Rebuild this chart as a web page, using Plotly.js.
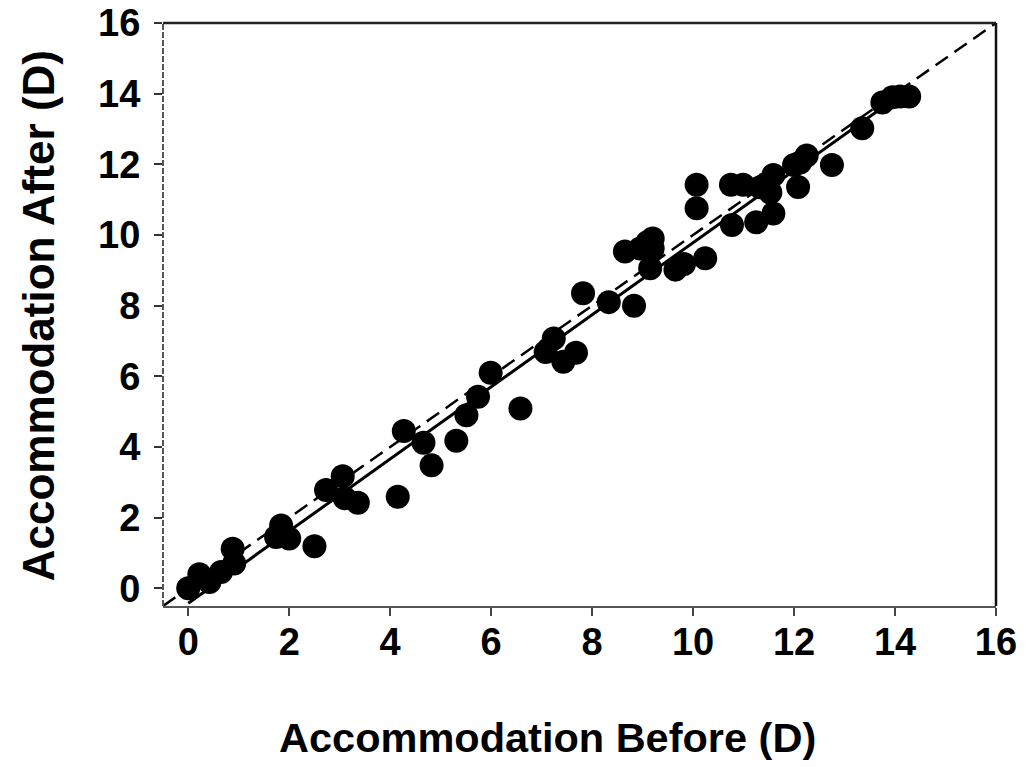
<!DOCTYPE html>
<html>
<head>
<meta charset="utf-8">
<script src="https://cdn.plot.ly/plotly-3.0.1.min.js"></script>
<style>html,body{margin:0;padding:0;background:#fff;}#chart{width:1025px;height:767px;}</style>
</head>
<body>
<div id="chart"></div>
<script>
// Accommodation before vs after (D)
const before = [0.00, 0.22, 0.42, 0.65, 0.88, 0.91, 1.74, 1.84, 2.00, 2.50,
  2.73, 3.06, 3.10, 3.36, 4.15, 4.27, 4.66, 4.82, 5.31, 5.51,
  5.74, 5.99, 6.58, 7.08, 7.24, 7.43, 7.68, 7.82, 8.33, 8.83,
  8.65, 8.95, 9.10, 9.20, 9.20, 9.15, 9.65, 9.82, 10.24, 10.07,
  10.07, 10.75, 10.99, 10.77, 11.25, 11.59, 11.33, 11.45, 11.59, 11.53,
  12.08, 12.00, 12.25, 12.12, 12.75, 13.35, 13.75, 13.95, 14.10, 14.28];
const after = [0.00, 0.40, 0.18, 0.46, 1.12, 0.70, 1.45, 1.78, 1.41, 1.19,
  2.78, 3.17, 2.55, 2.42, 2.59, 4.45, 4.12, 3.48, 4.18, 4.90,
  5.42, 6.10, 5.09, 6.69, 7.07, 6.41, 6.67, 8.35, 8.10, 8.00,
  9.53, 9.62, 9.80, 9.90, 9.62, 9.06, 9.02, 9.18, 9.34, 11.42,
  10.76, 11.42, 11.42, 10.28, 10.36, 10.61, 11.35, 11.45, 11.70, 11.20,
  11.36, 11.98, 12.25, 12.05, 11.98, 13.02, 13.75, 13.90, 13.92, 13.92];
// Regression line (solid) and line of identity (dashed)
const fitX = [0, 14.3];
const fitY = [-0.42, 14.17];
const idX = [-0.5, 16];
const idY = [-0.5, 16];
const tickVals = [0, 2, 4, 6, 8, 10, 12, 14, 16];
const tickText = ['0', '2', '4', '6', '8', '10', '12', '14', '16'];
const xTitle = 'Accommodation Before (D)';
const yTitle = 'Accommodation After (D)';

const FONT = 'Liberation Sans, Arial, Helvetica, sans-serif';

const traces = [
  {x: idX, y: idY, mode: 'lines', line: {color: '#000', width: 2.5, dash: '15px,8px'}, hoverinfo: 'skip', showlegend: false},
  {x: fitX, y: fitY, mode: 'lines', line: {color: '#000', width: 3}, hoverinfo: 'skip', showlegend: false},
  {x: before, y: after, mode: 'markers', marker: {color: '#000', size: 24, line: {width: 0}}, showlegend: false}
];

const layout = {
  width: 1025, height: 767,
  margin: {l: 163, r: 29, t: 23, b: 161},
  paper_bgcolor: '#fff', plot_bgcolor: '#fff',
  showlegend: false,
  font: {family: FONT, color: '#000'},
  xaxis: {
    range: [-0.5, 16], tickvals: tickVals, ticktext: tickText,
    showgrid: false, zeroline: false,
    showline: true, linecolor: '#555', linewidth: 2,
    ticks: 'outside', ticklen: 8, tickwidth: 2, tickcolor: '#444',
    ticklabelstandoff: -7,
    tickfont: {family: FONT, size: 38, weight: 'bold', color: '#000'}
  },
  yaxis: {
    range: [-0.5, 16], tickvals: tickVals, ticktext: tickText,
    showgrid: false, zeroline: false, showline: false,
    ticks: 'outside', ticklen: 8, tickwidth: 2, tickcolor: '#333',
    ticklabelstandoff: 6,
    tickfont: {family: FONT, size: 38, weight: 'bold', color: '#000'}
  },
  annotations: [
    {text: xTitle, xref: 'paper', yref: 'paper', x: 0.462, y: -0.225, xanchor: 'center', yanchor: 'middle', showarrow: false,
     font: {family: FONT, size: 41.5, weight: 'bold', color: '#000'}},
    {text: yTitle, xref: 'paper', yref: 'paper', x: -0.150, y: 0.497, xanchor: 'center', yanchor: 'middle', showarrow: false, textangle: -90,
     font: {family: FONT, size: 44, weight: 'bold', color: '#000'}}
  ],
  shapes: [
    {type: 'line', xref: 'paper', yref: 'paper', x0: 0, x1: 1, y0: 1, y1: 1, line: {color: '#222', width: 2.5}},
    {type: 'line', xref: 'paper', yref: 'paper', x0: 1, x1: 1, y0: 1, y1: 0, line: {color: '#111', width: 2.5}},
    {type: 'line', xref: 'paper', yref: 'paper', x0: 0, x1: 0, y0: 0, y1: 1, line: {color: '#555', width: 2, dash: '6px,2px'}}
  ]
};

Plotly.newPlot('chart', traces, layout, {displayModeBar: false, staticPlot: true});
</script>
</body>
</html>
